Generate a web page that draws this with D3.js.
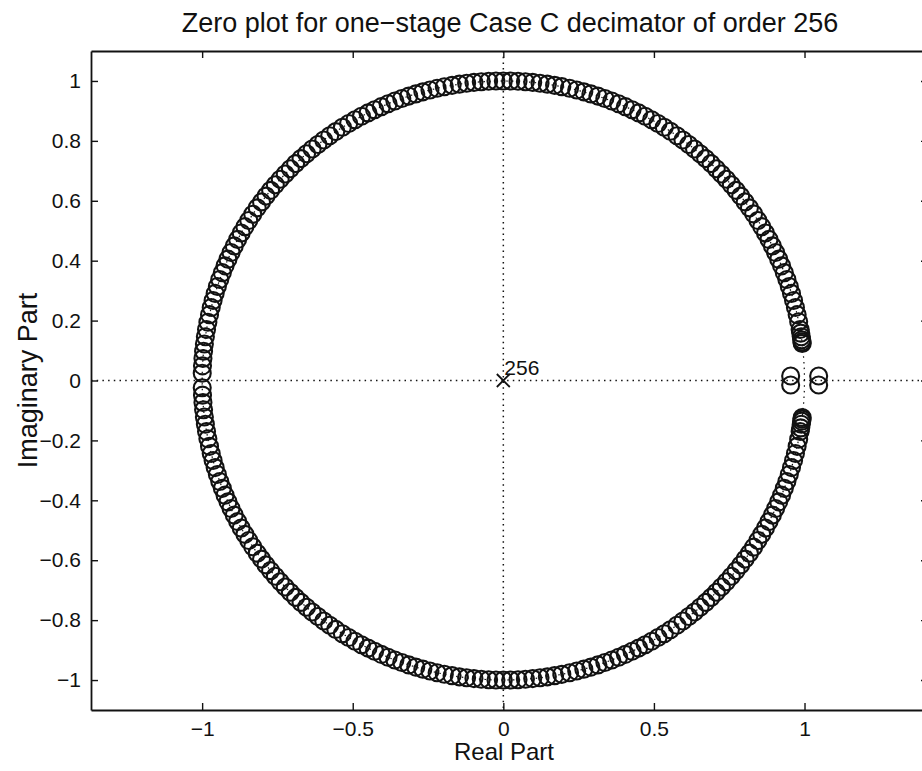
<!DOCTYPE html>
<html>
<head>
<meta charset="utf-8">
<script src="https://cdn.jsdelivr.net/npm/d3@7"></script>
<style>
  html, body { margin: 0; padding: 0; background: #fff; }
  #chart { width: 922px; height: 771px; overflow: hidden; }
  text { font-family: "Liberation Sans", Arial, Helvetica, sans-serif; fill: #111; }
</style>
</head>
<body>
<div id="chart"></div>
<script>
const titleText = 'Zero plot for one\u2212stage Case C decimator of order 256';
const xLabel = 'Real Part';
const yLabel = 'Imaginary Part';

const xTicks = [-1, -0.5, 0, 0.5, 1];
const yTicks = [-1, -0.8, -0.6, -0.4, -0.2, 0, 0.2, 0.4, 0.6, 0.8, 1];

// zeros on the unit circle, angle in degrees (upper half, then lower half)
const upperAngles = [
  7.1, 7.4, 7.8, 8.4, 9.1, 9.8, 11.3, 12.7, 14.1, 15.5, 16.9, 18.3, 19.7, 21.1, 22.5,
  23.9, 25.3, 26.7, 28.1, 29.5, 30.9, 32.3, 33.8, 35.2, 36.6, 38.0, 39.4, 40.8, 42.2,
  43.6, 45.0, 46.4, 47.8, 49.2, 50.6, 52.0, 53.4, 54.8, 56.3, 57.7, 59.1, 60.5, 61.9,
  63.3, 64.7, 66.1, 67.5, 68.9, 70.3, 71.7, 73.1, 74.5, 75.9, 77.3, 78.8, 80.2, 81.6,
  83.0, 84.4, 85.8, 87.2, 88.6, 90.0, 91.4, 92.8, 94.2, 95.6, 97.0, 98.4, 99.8, 101.3,
  102.7, 104.1, 105.5, 106.9, 108.3, 109.7, 111.1, 112.5, 113.9, 115.3, 116.7, 118.1,
  119.5, 120.9, 122.3, 123.8, 125.2, 126.6, 128.0, 129.4, 130.8, 132.2, 133.6, 135.0,
  136.4, 137.8, 139.2, 140.6, 142.0, 143.4, 144.8, 146.3, 147.7, 149.1, 150.5, 151.9,
  153.3, 154.7, 156.1, 157.5, 158.9, 160.3, 161.7, 163.1, 164.5, 165.9, 167.3, 168.8,
  170.2, 171.6, 173.0, 174.4, 175.8, 177.2, 178.6
];
const lowerAngles = [
  -7.1, -7.4, -7.8, -8.4, -9.1, -9.8, -11.3, -12.7, -14.1, -15.5, -16.9, -18.3, -19.7, -21.1, -22.5,
  -23.9, -25.3, -26.7, -28.1, -29.5, -30.9, -32.3, -33.8, -35.2, -36.6, -38.0, -39.4, -40.8, -42.2,
  -43.6, -45.0, -46.4, -47.8, -49.2, -50.6, -52.0, -53.4, -54.8, -56.3, -57.7, -59.1, -60.5, -61.9,
  -63.3, -64.7, -66.1, -67.5, -68.9, -70.3, -71.7, -73.1, -74.5, -75.9, -77.3, -78.8, -80.2, -81.6,
  -83.0, -84.4, -85.8, -87.2, -88.6, -90.0, -91.4, -92.8, -94.2, -95.6, -97.0, -98.4, -99.8, -101.3,
  -102.7, -104.1, -105.5, -106.9, -108.3, -109.7, -111.1, -112.5, -113.9, -115.3, -116.7, -118.1,
  -119.5, -120.9, -122.3, -123.8, -125.2, -126.6, -128.0, -129.4, -130.8, -132.2, -133.6, -135.0,
  -136.4, -137.8, -139.2, -140.6, -142.0, -143.4, -144.8, -146.3, -147.7, -149.1, -150.5, -151.9,
  -153.3, -154.7, -156.1, -157.5, -158.9, -160.3, -161.7, -163.1, -164.5, -165.9, -167.3, -168.8,
  -170.2, -171.6, -173.0, -174.4, -175.8, -177.2, -178.6
];

// zeros off the unit circle near z = 1
const offRe = [0.954, 0.954, 1.047, 1.047];
const offIm = [0.015, -0.015, 0.015, -0.015];

// poles
const poleRe = [0];
const poleIm = [0];
const poleMult = ['256'];

const W = 922, H = 771;
const plot = { left: 91, right: 928, top: 51, bottom: 710 };

const svg = d3.select('#chart').append('svg')
  .attr('width', W)
  .attr('height', H);

const x = d3.scaleLinear().domain([-1.369, 1.41]).range([plot.left, plot.right]);
const y = d3.scaleLinear().domain([-1.1, 1.1]).range([plot.bottom, plot.top]);

const fmt = d3.format('~g');
const ink = '#121212';

// dotted reference lines
svg.append('line')
  .attr('x1', x(0)).attr('x2', x(0))
  .attr('y1', plot.top).attr('y2', plot.bottom)
  .attr('stroke', ink).attr('stroke-width', 1.5)
  .attr('stroke-dasharray', '1.5,4.2');
svg.append('line')
  .attr('x1', plot.left).attr('x2', plot.right)
  .attr('y1', y(0)).attr('y2', y(0))
  .attr('stroke', ink).attr('stroke-width', 1.5)
  .attr('stroke-dasharray', '1.5,4.2');

// unit circle (dotted, mostly hidden under the zeros)
const circ = d3.range(0, 361, 2).map(a => [Math.cos(a * Math.PI / 180), Math.sin(a * Math.PI / 180)]);
svg.append('path')
  .attr('d', d3.line().x(d => x(d[0])).y(d => y(d[1]))(circ))
  .attr('fill', 'none').attr('stroke', ink).attr('stroke-width', 1.2)
  .attr('stroke-dasharray', '1.5,4.2');

// axes frame
const axisG = svg.append('g');
axisG.append('g')
  .attr('transform', `translate(0,${plot.bottom})`)
  .call(d3.axisBottom(x).tickValues(xTicks).tickFormat(fmt).tickSizeInner(-7).tickSizeOuter(0).tickPadding(11));
axisG.append('g')
  .attr('transform', `translate(0,${plot.top})`)
  .call(d3.axisTop(x).tickValues(xTicks).tickFormat('').tickSizeInner(-7).tickSizeOuter(0));
axisG.append('g')
  .attr('transform', `translate(${plot.left},0)`)
  .call(d3.axisLeft(y).tickValues(yTicks).tickFormat(fmt).tickSizeInner(-7).tickSizeOuter(0).tickPadding(10));
axisG.append('g')
  .attr('transform', `translate(${plot.right},0)`)
  .call(d3.axisRight(y).tickValues(yTicks).tickFormat('').tickSizeInner(-7).tickSizeOuter(0));

axisG.selectAll('.domain').attr('stroke', ink).attr('stroke-width', 1.8);
axisG.selectAll('.tick line').attr('stroke', ink).attr('stroke-width', 1.4);
axisG.selectAll('.tick text')
  .attr('font-size', 21)
  .attr('font-family', '"Liberation Sans", Arial, sans-serif')
  .attr('fill', ink);

// zeros on the circle
const zeros = upperAngles.concat(lowerAngles).map(a => ({
  re: Math.cos(a * Math.PI / 180),
  im: Math.sin(a * Math.PI / 180)
})).concat(offRe.map((r, i) => ({ re: r, im: offIm[i] })));

svg.append('g')
  .selectAll('circle')
  .data(zeros)
  .join('circle')
  .attr('cx', d => x(d.re))
  .attr('cy', d => y(d.im))
  .attr('r', 8.5)
  .attr('fill', 'none')
  .attr('stroke', ink)
  .attr('stroke-width', 2.1);

// poles
const poles = poleRe.map((r, i) => ({ re: r, im: poleIm[i], m: poleMult[i] }));
const pg = svg.append('g').selectAll('g').data(poles).join('g')
  .attr('transform', d => `translate(${x(d.re)},${y(d.im)})`);
pg.append('path')
  .attr('d', 'M-6.5,-6.5L6.5,6.5M-6.5,6.5L6.5,-6.5')
  .attr('stroke', ink).attr('stroke-width', 1.8);
pg.append('text')
  .attr('x', 1)
  .attr('y', -6)
  .attr('font-size', 21)
  .text(d => d.m);

// labels
svg.append('text')
  .attr('x', 510).attr('y', 32)
  .attr('text-anchor', 'middle')
  .attr('font-size', 27)
  .text(titleText);

svg.append('text')
  .attr('x', 504).attr('y', 760)
  .attr('text-anchor', 'middle')
  .attr('font-size', 24)
  .text(xLabel);

svg.append('text')
  .attr('transform', `translate(37,${y(0)}) rotate(-90)`)
  .attr('text-anchor', 'middle')
  .attr('font-size', 27)
  .text(yLabel);
</script>
</body>
</html>
